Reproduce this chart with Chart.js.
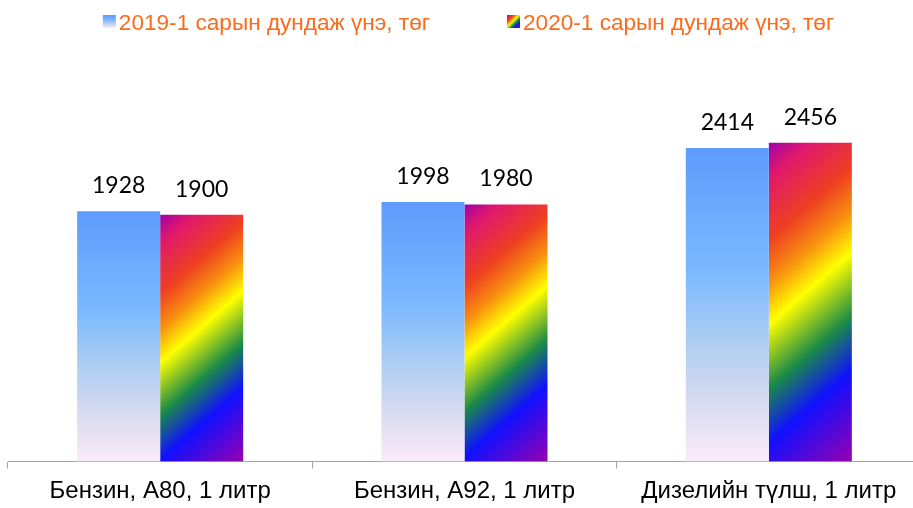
<!DOCTYPE html>
<html>
<head>
<meta charset="utf-8">
<script src="https://cdn.jsdelivr.net/npm/chart.js@4.4.1/dist/chart.umd.min.js"></script>
<style>
  html, body { margin: 0; padding: 0; background: #fff; overflow: hidden; }
</style>
</head>
<body>
<canvas id="fuelPrices" width="922" height="508"></canvas>
<script>
const categories = ['Бензин, A80, 1 литр', 'Бензин, A92, 1 литр', 'Дизелийн түлш, 1 литр'];
const seriesNames = ['2019-1 сарын дундаж үнэ, төг', '2020-1 сарын дундаж үнэ, төг'];
const prices2019 = [1928, 1998, 2414];
const prices2020 = [1900, 1980, 2456];

const blueStops = [[0, '#5e9bfc'], [0.4, '#7cb9ff'], [0.6, '#a9ccf3'], [0.8, '#d6daf0'], [1, '#fbebf9']];
const rainbowStops = [
  [0, '#a000aa'], [0.09, '#e0186c'], [0.25, '#ee4020'], [0.36, '#f8900f'],
  [0.465, '#ffff00'], [0.63, '#1a8a48'], [0.77, '#1010ff'], [1, '#9800b0']
];

function blueFill(ctx, top, bottom) {
  const g = ctx.createLinearGradient(0, top, 0, bottom);
  blueStops.forEach(s => g.addColorStop(s[0], s[1]));
  return g;
}

function rainbowFill(ctx, left, top, w, h, dx, dy) {
  const len = w * dx + h * dy;
  const g = ctx.createLinearGradient(left, top, left + dx * len, top + dy * len);
  rainbowStops.forEach(s => g.addColorStop(s[0], s[1]));
  return g;
}

// gradients depend on each bar's box, so set them once geometry is known
const barFills = {
  id: 'barFills',
  beforeDatasetsDraw(chart) {
    const ctx = chart.ctx;
    chart.data.datasets.forEach((ds, di) => {
      chart.getDatasetMeta(di).data.forEach(el => {
        const p = el.getProps(['x', 'y', 'base', 'width'], true);
        const left = p.x - p.width / 2;
        el.options.backgroundColor = di === 0
          ? blueFill(ctx, p.y, p.base)
          : rainbowFill(ctx, left, p.y, p.width, p.base - p.y, 0.655, 0.755);
      });
    });
  }
};

const valueLabels = {
  id: 'valueLabels',
  afterDatasetsDraw(chart) {
    const ctx = chart.ctx;
    ctx.save();
    ctx.font = '23px Lato, "Open Sans", sans-serif';
    ctx.fillStyle = '#000';
    ctx.textAlign = 'center';
    ctx.textBaseline = 'alphabetic';
    chart.data.datasets.forEach((ds, di) => {
      chart.getDatasetMeta(di).data.forEach((el, i) => {
        ctx.fillText(String(ds.data[i]), el.x, el.y - 18);
      });
    });
    ctx.restore();
  }
};

const topLegend = {
  id: 'topLegend',
  afterDraw(chart) {
    const ctx = chart.ctx;
    const box = 13, gapText = 3, gapItem = 77, baseline = 30;
    ctx.save();
    ctx.font = '22.6px "Liberation Sans", Arial, sans-serif';
    ctx.textBaseline = 'alphabetic';
    ctx.textAlign = 'left';
    const widths = seriesNames.map(n => box + gapText + ctx.measureText(n).width);
    const total = widths[0] + gapItem + widths[1];
    let x = (chart.chartArea.left + chart.chartArea.right) / 2 + 4 - total / 2;
    seriesNames.forEach((name, i) => {
      const top = 15;
      ctx.fillStyle = i === 0
        ? blueFill(ctx, top, top + box)
        : rainbowFill(ctx, x, top, box, box, 0.707, 0.707);
      ctx.fillRect(x, top, box, box);
      ctx.fillStyle = '#fb6b1b';
      ctx.fillText(name, x + box + gapText, baseline);
      x += widths[i] + gapItem;
    });
    ctx.restore();
  }
};

new Chart(document.getElementById('fuelPrices'), {
  type: 'bar',
  data: {
    labels: categories,
    datasets: [
      { label: seriesNames[0], data: prices2019, backgroundColor: () => '#7cb9ff' },
      { label: seriesNames[1], data: prices2020, backgroundColor: () => '#ffff00' }
    ]
  },
  options: {
    responsive: false,
    animation: false,
    events: [],
    layout: { padding: { left: 8, right: 1, top: 59, bottom: -7 } },
    datasets: { bar: { categoryPercentage: 0.5455, barPercentage: 1, borderWidth: 0 } },
    plugins: { legend: { display: false }, tooltip: { enabled: false } },
    scales: {
      x: {
        grid: { drawOnChartArea: false, drawTicks: true, tickLength: 7, color: '#a6a6a6' },
        border: { display: true, color: '#a6a6a6', width: 1 },
        ticks: {
          color: '#000',
          padding: 10,
          font: { family: '"Liberation Sans", Arial, sans-serif', size: 24, lineHeight: 1.1 }
        }
      },
      y: { display: false, min: 0, max: 3100 }
    }
  },
  plugins: [barFills, valueLabels, topLegend]
});
</script>
</body>
</html>
